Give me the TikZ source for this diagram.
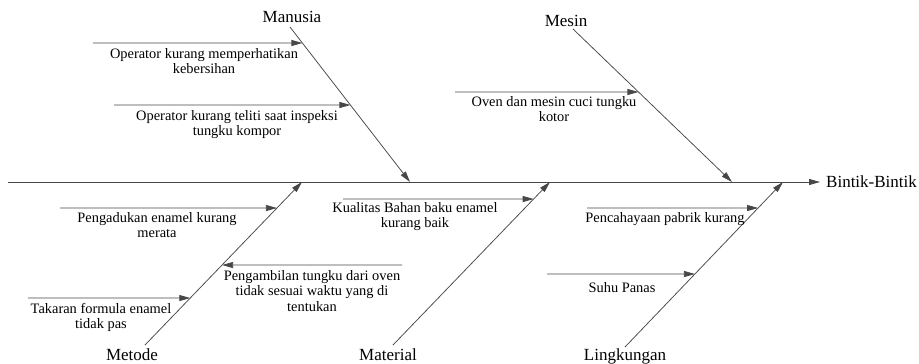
\documentclass[tikz,border=0pt]{standalone}
\usepackage{fontspec}
\setmainfont{Liberation Serif}
\usetikzlibrary{arrows.meta}
\begin{document}
\begin{tikzpicture}[x=1pt,y=-1pt,
  line/.style={draw=black!72, line width=0.75pt},
  arr/.style={line, -{Triangle[length=11pt,width=6pt]}},
  cause/.style={font=\fontsize{14.4}{15.5}\selectfont, align=center, inner sep=0pt, anchor=base},
  cat/.style={font=\fontsize{17}{20}\selectfont, inner sep=0pt, anchor=base}]
\useasboundingbox (0,0) rectangle (919,364);
% spine
\coordinate (s0) at (8,182);
\node[cat, anchor=base west] (effect) at (826,187) {Bintik-Bintik};
\coordinate (s1) at (820,182);
\draw[arr] (s0) -- (s1);
% categories
\node[cat] (manusia) at (292,23) {Manusia};
\node[cat] (mesin) at (566,27) {Mesin};
\node[cat] (metode) at (132,360) {Metode};
\node[cat] (material) at (388,360) {Material};
\node[cat] (lingk) at (625,360) {Lingkungan};
\coordinate (ma0) at (290,27); \coordinate (ma1) at (410,182);
\coordinate (me0) at (573,29); \coordinate (me1) at (732,182);
\coordinate (mt0) at (145,345); \coordinate (mt1) at (302,182);
\coordinate (mr0) at (393,345); \coordinate (mr1) at (550,182);
\coordinate (li0) at (625,347); \coordinate (li1) at (783,182);
\draw[arr] (ma0) -- (ma1);
\draw[arr] (me0) -- (me1);
\draw[arr] (mt0) -- (mt1);
\draw[arr] (mr0) -- (mr1);
\draw[arr] (li0) -- (li1);
% causes
\coordinate (a1) at (93,43);   \coordinate (b1) at (500,43);
\coordinate (a2) at (114,105); \coordinate (b2) at (500,105);
\coordinate (a3) at (455,92);  \coordinate (b3) at (800,92);
\coordinate (a4) at (60,208);  \coordinate (b4) at (400,208);
\coordinate (a5) at (402,265); \coordinate (b5) at (100,265);
\coordinate (a6) at (28,298);  \coordinate (b6) at (400,298);
\coordinate (a7) at (343,199); \coordinate (b7) at (700,199);
\coordinate (a8) at (587,208); \coordinate (b8) at (900,208);
\coordinate (a9) at (547,274); \coordinate (b9) at (900,274);
\draw[arr] (a1) -- (intersection of a1--b1 and ma0--ma1);
\draw[arr] (a2) -- (intersection of a2--b2 and ma0--ma1);
\draw[arr] (a3) -- (intersection of a3--b3 and me0--me1);
\draw[arr] (a4) -- (intersection of a4--b4 and mt0--mt1);
\draw[arr] (a5) -- (intersection of a5--b5 and mt0--mt1);
\draw[arr] (a6) -- (intersection of a6--b6 and mt0--mt1);
\draw[arr] (a7) -- (intersection of a7--b7 and mr0--mr1);
\draw[arr] (a8) -- (intersection of a8--b8 and li0--li1);
\draw[arr] (a9) -- (intersection of a9--b9 and li0--li1);
\node[cause] (t1) at (204,73.5) {Operator kurang memperhatikan\\kebersihan};
\node[cause] (t2) at (237,135.5) {Operator kurang teliti saat inspeksi\\tungku kompor};
\node[cause] (t3) at (554,121.5) {Oven dan mesin cuci tungku\\kotor};
\node[cause] (t4) at (157,237.5) {Pengadukan enamel kurang\\merata};
\node[cause] (t5) at (312,311) {Pengambilan tungku dari oven\\tidak sesuai waktu yang di\\tentukan};
\node[cause] (t6) at (101,328.5) {Takaran formula enamel\\tidak pas};
\node[cause] (t7) at (415,227.5) {Kualitas Bahan baku enamel\\kurang baik};
\node[cause] (t8) at (665,222) {Pencahayaan pabrik kurang};
\node[cause] (t9) at (622,292) {Suhu Panas};
\end{tikzpicture}
\end{document}
